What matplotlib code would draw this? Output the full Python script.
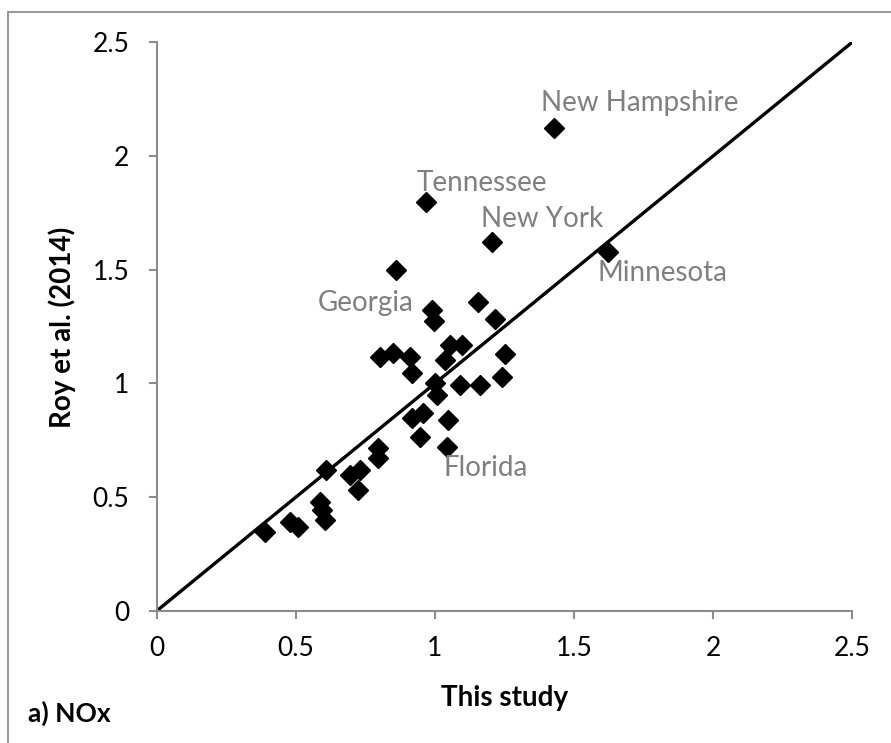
import matplotlib.pyplot as plt
from matplotlib.patches import Rectangle

# this study vs Roy et al. (2014), NOx
thisStudy = [1.428, 0.968, 1.205, 1.622, 0.860, 0.989, 0.996, 1.155, 1.216,
             0.802, 0.849, 0.910, 0.917, 1.054, 1.097, 1.036, 1.252, 1.241,
             1.090, 1.162, 1.000, 1.007, 0.957, 0.917, 1.047, 0.946, 1.043,
             0.608, 0.694, 0.730, 0.723, 0.795, 0.795, 0.586, 0.594, 0.604,
             0.478, 0.507, 0.388]
royEtAl = [2.123, 1.798, 1.622, 1.578, 1.499, 1.323, 1.274, 1.357, 1.282,
           1.116, 1.133, 1.116, 1.046, 1.169, 1.169, 1.103, 1.130, 1.029,
           0.994, 0.994, 1.003, 0.950, 0.869, 0.848, 0.839, 0.765, 0.721,
           0.619, 0.597, 0.619, 0.531, 0.716, 0.672, 0.478, 0.443, 0.399,
           0.390, 0.368, 0.346]

states = ["New Hampshire", "Tennessee", "New York", "Minnesota", "Georgia", "Florida"]
stateX = [1.381, 0.935, 1.165, 1.586, 0.579, 1.029]
stateY = [2.232, 1.881, 1.723, 1.485, 1.354, 0.628]

ticks = [0, 0.5, 1, 1.5, 2, 2.5]
tickLabels = ["0", "0.5", "1", "1.5", "2", "2.5"]

plt.rcParams['font.family'] = ['Lato', 'DejaVu Sans']
gray = "#8c8c8c"

fig = plt.figure(figsize=(8.91, 7.43), dpi=100)
fig.patches.append(Rectangle((8 / 891, -0.1), 1.2, 1 - 12 / 743 + 0.1, transform=fig.transFigure,
                             fill=False, edgecolor="#9a9a9a", linewidth=1.5))
ax = fig.add_axes([0.1762, 0.1781, 0.78, 0.7648])

ax.plot([0, 2.5], [0, 2.5], color="black", linewidth=2.4, zorder=2)
ax.plot(thisStudy, royEtAl, "D", linestyle="None", color="black", markersize=10.5, zorder=3)

for name, x, y in zip(states, stateX, stateY):
    ax.text(x, y, name, color="#7f7f7f", fontsize=20, ha="left", va="center")

ax.set_xlim(0, 2.5)
ax.set_ylim(0, 2.5)
ax.set_xticks(ticks)
ax.set_xticklabels(tickLabels)
ax.set_yticks(ticks)
ax.set_yticklabels(tickLabels)
ax.tick_params(axis="both", direction="out", length=6, width=1.5, color=gray,
               labelsize=19)
ax.tick_params(axis="y", pad=14)
ax.tick_params(axis="x", pad=12)
for side in ["top", "right"]:
    ax.spines[side].set_visible(False)
for side in ["left", "bottom"]:
    ax.spines[side].set_color(gray)
    ax.spines[side].set_linewidth(1.5)

fig.text(505 / 891, 1 - 698 / 743, "This study", fontsize=20, fontweight="bold",
         ha="center", va="center")
fig.text(62 / 891, 1 - 327 / 743, "Roy et al. (2014)", fontsize=20, fontweight="bold",
         ha="center", va="center", rotation=90)
fig.text(28 / 891, 1 - 713 / 743, "a) NOx", fontsize=19, fontweight="bold",
         ha="left", va="center")

fig.savefig("out.png", dpi=100)
